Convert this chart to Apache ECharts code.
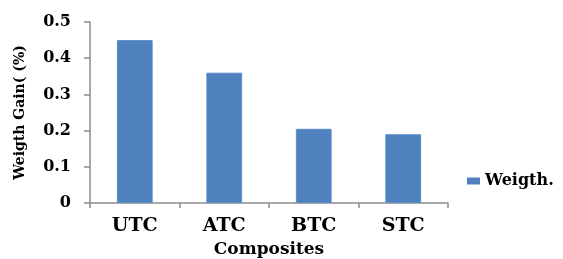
<!DOCTYPE html>
<html>
<head>
<meta charset="utf-8">
<script src="https://cdn.jsdelivr.net/npm/echarts@6/dist/echarts.min.js"></script>
<style>
  html, body { margin: 0; padding: 0; background: #fff; }
  #chart { width: 563px; height: 259px; }
</style>
</head>
<body>
<div id="chart"></div>
<script>
var categories = ['UTC', 'ATC', 'BTC', 'STC'];
var weightGain = [0.45, 0.36, 0.205, 0.19];
var yTicks = [0, 0.1, 0.2, 0.3, 0.4, 0.5];

(function() {
    var myChart = echarts.init(document.getElementById('chart'));
    var serif = "'DejaVu Serif', 'Liberation Serif', serif";
    var option = {
        animation: false,
        grid: {
            left: 90,
            right: 115,
            top: 22,
            bottom: 56,
            outerBoundsMode: 'none'
        },
        legend: {
            data: ['Weigth.'],
            orient: 'vertical',
            left: 462,
            top: 168,
            itemWidth: 13,
            itemHeight: 7,
            icon: 'rect',
            itemStyle: { color: '#4f81bd', borderWidth: 0 },
            textStyle: {
                fontFamily: serif,
                fontWeight: 'bold',
                fontSize: 16,
                color: '#000'
            }
        },
        xAxis: {
            type: 'category',
            data: categories,
            name: 'Composites',
            nameLocation: 'middle',
            nameGap: 38,
            nameTextStyle: {
                fontFamily: serif,
                fontWeight: 'bold',
                fontSize: 17,
                color: '#000'
            },
            axisLine: { lineStyle: { color: '#8c8c8c', width: 1.5 } },
            axisTick: { show: true, length: 5, lineStyle: { color: '#8c8c8c', width: 1.5 } },
            axisLabel: {
                margin: 14,
                fontFamily: serif,
                fontWeight: 'bold',
                fontSize: 19,
                color: '#000'
            }
        },
        yAxis: {
            type: 'value',
            min: 0,
            max: 0.5,
            interval: 0.1,
            name: 'Weigth Gain( (%)',
            nameLocation: 'middle',
            nameRotate: 90,
            nameGap: 63,
            nameTextStyle: {
                fontFamily: serif,
                fontWeight: 'bold',
                fontSize: 14,
                color: '#000'
            },
            axisLine: { show: true, lineStyle: { color: '#8c8c8c', width: 1.5 } },
            axisTick: { show: true, length: 6, lineStyle: { color: '#8c8c8c', width: 1.5 } },
            splitLine: { show: false },
            axisLabel: {
                margin: 19,
                fontFamily: serif,
                fontWeight: 'bold',
                fontSize: 16,
                color: '#000',
                formatter: function(v) {
                    var t = yTicks.find(function(x) { return Math.abs(x - v) < 1e-9; });
                    return t === 0 ? '0' : String(t);
                }
            }
        },
        series: [{
            name: 'Weigth.',
            type: 'bar',
            barWidth: '40%',
            data: weightGain,
            itemStyle: {
                color: '#4f81bd',
                borderColor: '#5b8fd0',
                borderWidth: 1
            }
        }]
    };
    myChart.setOption(option);
    window.addEventListener('resize', function() {
        myChart.resize();
    });
})();
</script>
</body>
</html>
